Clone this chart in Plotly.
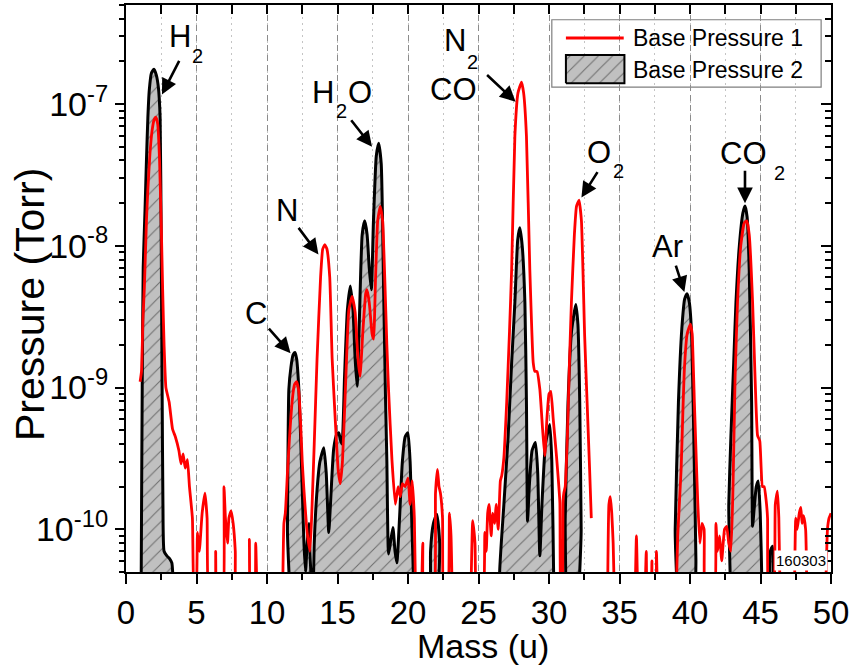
import math
import plotly.graph_objects as go

# ---------------- data ----------------
N = None
bp1_mass = [
    1.0, 1.1, 1.2, 1.3, 1.45, 1.55, 1.7, 1.85, 2.0, 2.12, 2.25, 2.38, 2.5, 2.6, 2.7, 2.83, 3.06, 3.3, 3.5,
    3.75, 3.9, 4.05, 4.2, 4.36, 4.5, 4.71, 4.85,
    4.95, 5.07, 5.2, 5.4, 5.6, 5.75, 5.9, 6.3, 6.36, 6.45,
    6.85, 6.95, 7.05, 7.2, 7.3, 7.45, 7.6, 7.75, 7.85,
    8.65, 8.75, 8.85, 9.1, 9.2, 9.3, 9.35,
    11.1, 11.2, 11.3, 11.45, 11.6, 11.8, 11.95, 12.1, 12.25, 12.38, 12.5, 12.62, 12.85, 13.05, 13.2, 13.35,
    13.55, 13.8, 13.95, 14.1, 14.25, 14.45, 14.62, 14.85, 15.05, 15.2,
    15.35, 15.56, 15.8, 16.03, 16.25, 16.45, 16.6, 16.8, 17.0, 17.09, 17.25, 17.45, 17.56, 17.7, 17.85,
    18.03, 18.2, 18.35, 18.5, 18.62, 18.86, 19.1, 19.3, 19.45, 19.6, 19.8, 20.0, 20.15, 20.3, 20.45, 20.55, 20.6,
    20.95, 21.05, 21.15, 21.8, 21.95, 22.09, 22.2, 22.3, 22.45, 22.55, 22.8, 22.94, 23.05, 23.15, 23.2,
    24.45, 24.59, 24.75, 24.9, 25.3, 25.45, 25.55, 25.65, 25.75, 25.9, 26.0, 26.15, 26.25, 26.4, 26.55, 26.65,
    26.8, 27.0, 27.2, 27.35, 27.58, 27.8, 28.05, 28.2, 28.4, 28.64, 28.88, 29.0, 29.15, 29.35, 29.55, 29.7,
    29.85, 30.0, 30.13, 30.3, 30.53, 30.77, 30.85, 30.92, 31.0, 31.05, 31.15, 31.3, 31.45, 31.59, 31.8, 31.95,
    32.13, 32.3, 32.53, 32.7, 32.88, 33.0, 33.05,
    34.15, 34.25, 34.35, 34.45, 34.55, 34.65, 34.7,
    36.1, 36.2, 36.3, 36.35, 36.8, 36.9, 37.0, 37.2, 37.3, 37.35, 37.55, 37.62, 37.7, 37.75,
    39.0, 39.13, 39.37, 39.5, 39.6, 39.8, 40.03, 40.15, 40.31, 40.45, 40.55, 40.7, 40.85, 41.0, 41.1,
    41.7, 41.84, 41.95, 42.1, 42.25, 42.45, 42.6, 42.75, 42.9,
    43.05, 43.2, 43.37, 43.6, 43.85, 44.03, 44.2, 44.44, 44.6, 44.79, 44.95, 45.14, 45.26, 45.4, 45.5, 45.6,
    45.9, 46.05, 46.2, 46.3, 46.4, 46.45,
    47.4, 47.5, 47.6, 47.75, 47.86, 47.95, 48.05, 48.2, 48.3, 48.35,
    49.6, 49.75, 49.86, 50.0,
]
bp1_torr = [
    1.1e-9, 1.3e-9, 3e-9, 5e-9, 1.5e-8, 2.5e-8, 4.5e-8, 6.5e-8, 7.8e-8, 8.1e-8, 7.2e-8, 4e-8, 1.4e-8, 4.9e-9, 2e-9, 1e-9, 7.9e-10, 5.1e-10, 4.5e-10,
    3.6e-10, 2.9e-10, 3.4e-10, 2.7e-10, 3.1e-10, 2e-10, 1.2e-10, 3e-11,
    3e-11, 9.5e-11, 7e-11, 1.3e-10, 1.8e-10, 1.2e-10, 3e-11, 3e-11, 7e-11, 3e-11,
    3e-11, 2e-10, 1.2e-10, 8e-11, 1.2e-10, 1.35e-10, 1.1e-10, 7e-11, 3e-11,
    3e-11, 8.5e-11, 3e-11, 3e-11, 8e-11, 3e-11, N,
    3e-11, 1.1e-10, 1.3e-10, 2.5e-10, 4.5e-10, 8.3e-10, 1.05e-9, 1.1e-9, 9.5e-10, 5.7e-10, 3e-10, 1.9e-10, 9.5e-11, 7e-11, 1.5e-10, 4e-10,
    1.6e-9, 6e-9, 9.5e-9, 1.02e-8, 9.5e-9, 6e-9, 1.6e-9, 5.7e-10, 2.6e-10, 2.1e-10,
    3e-10, 9.7e-10, 3.5e-9, 4.4e-9, 3.4e-9, 1.6e-9, 1.2e-9, 2.5e-9, 4.6e-9, 4.9e-9, 4e-9, 2.4e-9, 2.2e-9, 6e-9, 1.5e-8,
    1.9e-8, 1.5e-8, 6e-9, 2e-9, 9.7e-10, 3.1e-10, 1.5e-10, 2e-10, 1.7e-10, 2.1e-10, 2e-10, 2.3e-10, 1.5e-10, 2.2e-10, 1.2e-10, 3e-11, N,
    3e-11, 8e-11, 3e-11, 3e-11, 1.8e-10, 2.65e-10, 2e-10, 1.8e-10, 1.2e-10, 3e-11, 3e-11, 1.3e-10, 9e-11, 3e-11, N,
    3e-11, 1.15e-10, 8e-11, 3e-11, 3e-11, 9.5e-11, 7e-11, 1.3e-10, 1.5e-10, 9e-11, 1.3e-10, 1.1e-10, 1.5e-10, 1e-10, 2.2e-10, 2.4e-10,
    3.2e-10, 7.9e-10, 2.5e-9, 6.8e-9, 5.96e-8, 1.2e-7, 1.43e-7, 1.2e-7, 5.96e-8, 6.8e-9, 1.5e-9, 1.3e-9, 1.3e-9, 9.7e-10, 5e-10, 3.3e-10,
    6e-10, 9e-10, 9.4e-10, 6e-10, 3.3e-10, 1.55e-10, 3e-11, 3e-11, 1.6e-10, 1.8e-10, 2e-10, 4.5e-10, 1.5e-9, 4e-9, 1.2e-8, 1.9e-8,
    2.1e-8, 1.5e-8, 2.3e-9, 8e-10, 2.65e-10, 1.2e-10, N,
    3e-11, 1.5e-10, 1.7e-10, 1.3e-10, 8e-11, 3e-11, N,
    3e-11, 9e-11, 3e-11, N, 3e-11, 7e-11, 3e-11, 3e-11, 6e-11, 3e-11, 3e-11, 7e-11, 3e-11, N,
    3e-11, 9e-11, 2.65e-10, 7e-10, 1.35e-9, 2.4e-9, 2.8e-9, 2.4e-9, 7.9e-10, 3e-10, 1.55e-10, 8e-11, 1.1e-10, 1e-10, 3e-11,
    3e-11, 1.1e-10, 7e-11, 9e-11, 6e-11, 1e-10, 1.05e-10, 8e-11, 7e-11,
    2e-10, 1.2e-9, 4e-9, 1e-8, 1.45e-8, 1.5e-8, 1.2e-8, 4e-9, 1.3e-9, 4.6e-10, 4.2e-10, 2e-10, 2e-10, 1.6e-10, 1.2e-10, 3e-11,
    3e-11, 1.5e-10, 1.86e-10, 1.2e-10, 3e-11, N,
    3e-11, 1.2e-10, 1e-10, 1.3e-10, 1.43e-10, 1.1e-10, 1.25e-10, 1e-10, 3e-11, N,
    3e-11, 1e-10, 1.2e-10, 1.3e-10,
]

bp2_mass = [
    1.0, 1.08, 1.15, 1.22, 1.35, 1.45, 1.55, 1.65, 1.8, 1.98, 2.15, 2.3, 2.42, 2.5, 2.56, 2.62, 2.7, 2.9, 3.1, 3.25, 3.35, 3.45,
    11.35, 11.45, 11.55, 11.7, 11.85, 11.98, 12.1, 12.26, 12.4, 12.5, 12.62, 12.73, 12.85, 12.97, 13.07, 13.25,
    13.35, 13.55, 13.75, 14.03, 14.2, 14.38, 14.5, 14.73, 14.95, 15.09, 15.2, 15.32, 15.5, 15.7, 15.91, 16.1,
    16.25, 16.39, 16.55, 16.75, 16.93, 17.1, 17.25, 17.4, 17.55, 17.75, 17.92, 18.1, 18.27, 18.4, 18.5, 18.62,
    18.75, 18.93, 19.08, 19.21, 19.4, 19.6, 19.8, 19.99, 20.15, 20.27, 20.4, 20.5,
    21.45, 21.6, 21.8, 22.04, 22.25, 22.4,
    26.45, 26.5, 26.8, 27.1, 27.35, 27.58, 27.78, 27.93, 28.1, 28.29, 28.4, 28.48, 28.6, 28.8, 29.04, 29.2,
    29.35, 29.5, 29.75, 30.06, 30.2, 30.34, 30.45,
    31.05, 31.15, 31.35, 31.6, 31.9, 32.05, 32.18, 32.28, 32.36,
    38.8, 38.95, 39.18, 39.42, 39.62, 39.79, 39.95, 40.12, 40.31, 40.42, 40.5,
    42.6, 42.75, 42.9, 43.1, 43.26, 43.5, 43.75, 43.9, 44.05, 44.2, 44.37, 44.44, 44.55, 44.7, 44.84, 44.98,
    45.1, 45.15, 45.55, 45.7, 45.85, 45.95,
]
bp2_torr = [
    1e-12, 5e-11, 1e-9, 7e-9, 1.8e-8, 4e-8, 8e-8, 1.25e-7, 1.65e-7, 1.76e-7, 1.6e-7, 1.3e-7, 8e-8, 1e-8, 1e-9, 1.5e-10, 7e-11, 6.5e-11, 6.2e-11, 5.8e-11, 4e-11, 1e-12,
    1e-12, 1e-10, 9.7e-10, 1.4e-9, 1.7e-9, 1.77e-9, 1.6e-9, 9.7e-10, 4e-10, 1.9e-10, 8e-11, 5e-11, 8e-11, 1.1e-10, 6e-11, 3e-11,
    8e-11, 1.9e-10, 3e-10, 3.77e-10, 2.5e-10, 9.5e-11, 1.5e-10, 3.7e-10, 4.7e-10, 4.8e-10, 4.3e-10, 4e-10, 1.2e-9, 3.5e-9, 5.2e-9, 3.5e-9,
    1.6e-9, 1.02e-9, 3e-9, 1.2e-8, 1.5e-8, 1.2e-8, 7e-9, 4.9e-9, 1.5e-8, 4.3e-8, 5.3e-8, 3.8e-8, 4.9e-9, 9e-10, 3.05e-10, 6.7e-11,
    8e-11, 1.03e-10, 7e-11, 5.8e-11, 1.2e-10, 3e-10, 4.5e-10, 4.8e-10, 3e-10, 1.1e-10, 4e-11, 1e-12,
    1e-12, 7e-11, 1.1e-10, 1.28e-10, 8e-11, 1e-12,
    1e-12, 5e-11, 1.5e-10, 4.5e-10, 1.5e-9, 4e-9, 1.1e-8, 1.34e-8, 1e-8, 4e-9, 7.9e-10, 1.14e-10, 2e-10, 3.6e-10, 4.1e-10, 2.5e-10,
    6.5e-11, 1.5e-10, 4e-10, 5.5e-10, 3e-10, 4e-11, 1e-12,
    1e-12, 1.2e-10, 7.9e-10, 2.5e-9, 3.86e-9, 2.8e-9, 7.9e-10, 1e-10, 1e-12,
    1e-12, 1e-10, 7.9e-10, 2.6e-9, 4.2e-9, 4.6e-9, 4e-9, 2.3e-9, 2.65e-10, 6e-11, 1e-12,
    1e-12, 1.5e-10, 4.5e-10, 1.5e-9, 4e-9, 1e-8, 1.7e-8, 1.91e-8, 1.6e-8, 6.8e-9, 7.9e-10, 1.05e-10, 1.4e-10, 2e-10, 2.19e-10, 1.3e-10,
    4e-11, 1e-12, 1e-12, 7e-11, 7.6e-11, 1e-12,
]

series_names = ["Base Pressure 1", "Base Pressure 2"]
x_ticks = [0, 5, 10, 15, 20, 25, 30, 35, 40, 45, 50]
y_ticks = [1e-10, 1e-9, 1e-8, 1e-7]
y_ticktext = ["10<sup>-10</sup>", "10<sup>-9</sup>", "10<sup>-8</sup>", "10<sup>-7</sup>"]

# peak label texts: (text, mass, torr, font size)
label_texts = [
    ("H", 3.82, 2.98e-7, 31), ("2", 5.06, 2.19e-7, 20),
    ("C", 9.19, 3.34e-9, 31),
    ("N", 11.42, 1.77e-8, 31),
    ("H", 14.0, 1.21e-7, 31), ("2", 15.28, 8.95e-8, 20), ("O", 16.58, 1.21e-7, 31),
    ("N", 23.34, 2.79e-7, 31), ("2", 24.58, 1.99e-7, 20), ("CO", 23.23, 1.26e-7, 31),
    ("O", 33.56, 4.53e-8, 31), ("2", 34.94, 3.36e-8, 20),
    ("Ar", 38.4, 9.84e-9, 31),
    ("CO", 43.78, 4.46e-8, 31), ("2", 46.32, 3.27e-8, 20),
]
# arrows: head (mass, torr) and tail offset in screen pixels
arrows = [
    (2.55, 1.17e-7, 18, -35),
    (11.67, 1.75e-9, -23, -26),
    (13.65, 8.7e-9, -21, -28),
    (17.45, 5.0e-8, -22, -28),
    (27.63, 1.04e-7, -30, -28),
    (32.3, 2.19e-8, 17, -27),
    (39.6, 4.72e-9, -9, -28),
    (43.9, 2.0e-8, 0, -34),
]

FONT = "Liberation Sans, Arial, sans-serif"
LOG_LO, LOG_HI = math.log10(5e-11), math.log10(5e-7)

# legend key geometry (fractions of the plot area)
LEG_BOX = (0.604, 0.855, 0.986, 0.974)
LEG_LINE = (0.624, 0.706, 0.942)
LEG_HATCH = (0.624, 0.862, 0.707, 0.912)
LEG_TEXT_X, LEG_TEXT_Y = 0.716, (0.942, 0.885)

fig = go.Figure()
fig.add_trace(go.Scatter(x=[0, 50], y=[1e-12, 1e-12], mode="lines", line=dict(width=0),
                         showlegend=False, hoverinfo="skip"))
fig.add_trace(go.Scatter(
    x=bp2_mass, y=bp2_torr, name=series_names[1], mode="lines",
    line=dict(color="black", width=3, shape="spline", smoothing=0.5),
    fill="tonexty", fillcolor="#c0c0c0",
    fillpattern=dict(shape="/", bgcolor="#c0c0c0", fgcolor="#1a1a1a", size=10, solidity=0.1),
    showlegend=False,
))
fig.add_trace(go.Scatter(
    x=bp1_mass, y=bp1_torr, name=series_names[0], mode="lines",
    line=dict(color="#ff0000", width=2.8, shape="spline", smoothing=0.4),
    connectgaps=False, showlegend=False,
))
# mirrored top/right axes
fig.add_trace(go.Scatter(x=[None], y=[None], xaxis="x2", yaxis="y2", showlegend=False, hoverinfo="skip"))
# legend key: hatched box (on a hidden 0..1 overlay axis)
hx0, hy0, hx1, hy1 = LEG_HATCH
fig.add_trace(go.Scatter(
    x=[hx0, hx1, hx1, hx0, hx0], y=[hy0, hy0, hy1, hy1, hy0], xaxis="x3", yaxis="y3",
    mode="lines", line=dict(color="black", width=2), fill="toself", fillcolor="#c0c0c0",
    fillpattern=dict(shape="/", bgcolor="#c0c0c0", fgcolor="#1a1a1a", size=10, solidity=0.1),
    showlegend=False, hoverinfo="skip"))

annotations = []
for txt, tx, ty, fs in label_texts:
    annotations.append(dict(x=tx, y=math.log10(ty), xref="x", yref="y", text=txt, showarrow=False,
                            font=dict(family=FONT, size=fs, color="black")))
for hx, hy, dx, dy in arrows:
    annotations.append(dict(x=hx, y=math.log10(hy), xref="x", yref="y", text="",
                            showarrow=True, arrowhead=2, arrowsize=1.2, arrowwidth=2.6,
                            arrowcolor="black", ax=dx, ay=dy, standoff=0, startstandoff=0))

annotations.append(dict(x=0.506, y=-0.131, xref="paper", yref="paper", text="Mass (u)", showarrow=False,
                        xanchor="center", yanchor="middle", font=dict(family=FONT, size=34, color="black")))
annotations.append(dict(x=-0.136, y=0.471, xref="paper", yref="paper", text="Pressure (Torr)", showarrow=False,
                        textangle=-90, xanchor="center", yanchor="middle",
                        font=dict(family=FONT, size=41, color="black")))
annotations.append(dict(x=1, y=0, xref="paper", yref="paper", text="160303", showarrow=False,
                        xanchor="right", yanchor="bottom", xshift=-3, yshift=1, bgcolor="white", borderpad=1,
                        font=dict(family=FONT, size=15, color="black")))
for name, ly in zip(series_names, LEG_TEXT_Y):
    annotations.append(dict(x=LEG_TEXT_X, y=ly, xref="paper", yref="paper", text=name, showarrow=False,
                            xanchor="left", yanchor="middle", font=dict(family=FONT, size=23, color="black")))

shapes = [
    dict(type="rect", xref="paper", yref="paper", x0=LEG_BOX[0], y0=LEG_BOX[1], x1=LEG_BOX[2], y1=LEG_BOX[3],
         fillcolor="white", line=dict(color="#7f7f7f", width=1.2), layer="between"),
    dict(type="line", xref="paper", yref="paper", x0=LEG_LINE[0], x1=LEG_LINE[1], y0=LEG_LINE[2], y1=LEG_LINE[2],
         line=dict(color="#ff0000", width=3), layer="above"),
]

minor_y = [k * 10 ** e for e in range(-11, -6) for k in range(2, 10)]

fig.update_layout(
    width=854, height=670,
    margin=dict(l=126, r=21, t=5, b=98),
    paper_bgcolor="white", plot_bgcolor="white",
    font=dict(family=FONT, color="black"),
    showlegend=False,
    xaxis=dict(range=[0, 50], tickvals=x_ticks, ticktext=[str(v) for v in x_ticks],
               ticks="outside", ticklen=10, tickwidth=2, tickcolor="black",
               showline=True, linecolor="black", linewidth=2,
               showgrid=True, gridcolor="#8c8c8c", gridwidth=1, griddash="6px,4px",
               minor=dict(dtick=2.5, ticks="outside", ticklen=6, tickwidth=2, tickcolor="black",
                          showgrid=True, gridcolor="#c4c4c4", gridwidth=1, griddash="2px,4px"),
               tickfont=dict(family=FONT, size=33, color="black"), zeroline=False),
    yaxis=dict(type="log", range=[LOG_LO, LOG_HI], tickvals=y_ticks, ticktext=y_ticktext,
               ticks="outside", ticklen=9, tickwidth=2, tickcolor="black",
               showline=True, linecolor="black", linewidth=2, showgrid=False,
               minor=dict(tickvals=minor_y, ticks="outside", ticklen=5, tickwidth=1.5, tickcolor="black",
                          showgrid=False),
               tickfont=dict(family=FONT, size=34, color="black"), zeroline=False),
    xaxis2=dict(overlaying="x", side="top", range=[0, 50], dtick=2.5, tick0=0, ticks="inside",
                ticklen=9, tickwidth=2, tickcolor="black", showticklabels=False,
                showline=True, linecolor="black", linewidth=2, showgrid=False, zeroline=False),
    yaxis2=dict(overlaying="y", side="right", type="log", range=[LOG_LO, LOG_HI], tickvals=y_ticks,
                ticks="inside", ticklen=10, tickwidth=2, tickcolor="black", showticklabels=False,
                showline=True, linecolor="black", linewidth=2, showgrid=False, zeroline=False,
                minor=dict(tickvals=minor_y, ticks="inside", ticklen=6, tickwidth=1.5, tickcolor="black")),
    xaxis3=dict(overlaying="x", range=[0, 1], visible=False, fixedrange=True),
    yaxis3=dict(overlaying="y", range=[0, 1], visible=False, fixedrange=True),
    annotations=annotations,
    shapes=shapes,
)

fig.write_html("out.html")
